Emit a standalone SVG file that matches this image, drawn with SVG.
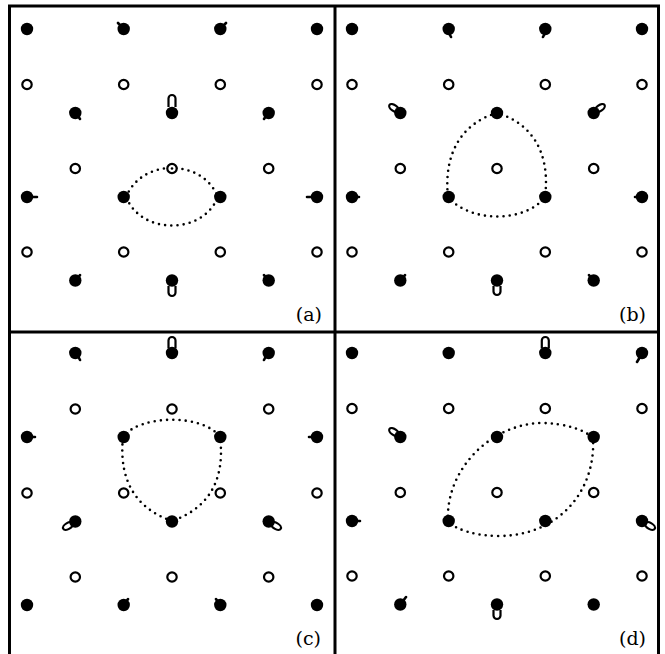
<svg xmlns="http://www.w3.org/2000/svg" xmlns:xlink="http://www.w3.org/1999/xlink" width="665" height="654" viewBox="0 0 665 654">
<style>
.frame{fill:none;stroke:#000;stroke-width:3}
.orb{fill:none;stroke:#000;stroke-width:2.6;stroke-linecap:round;stroke-dasharray:0 6.2}
.tail{fill:none;stroke:#000;stroke-width:2.6;stroke-linecap:round}
.loop{fill:#fff;stroke:#000;stroke-width:2.2}
.lbl{font-family:"DejaVu Serif","Liberation Serif",serif;font-size:19px;fill:#000;text-anchor:end}
</style>
<defs>
<circle id="f" r="6.2" fill="#000"/>
<circle id="o" r="4.7" fill="#fff" stroke="#000" stroke-width="2.2"/>
<g id="latA">
<use xlink:href="#o" x="27" y="84.5"/><use xlink:href="#o" x="123.7" y="84.5"/><use xlink:href="#o" x="220.3" y="84.5"/><use xlink:href="#o" x="317" y="84.5"/>
<use xlink:href="#o" x="75.3" y="168.5"/><use xlink:href="#o" x="172" y="168.5"/><use xlink:href="#o" x="268.7" y="168.5"/>
<use xlink:href="#o" x="27" y="252"/><use xlink:href="#o" x="123.7" y="252"/><use xlink:href="#o" x="220.3" y="252"/><use xlink:href="#o" x="317" y="252"/>
</g>
<g id="latAf">
<use xlink:href="#f" x="27" y="29"/><use xlink:href="#f" x="123.7" y="29"/><use xlink:href="#f" x="220.3" y="29"/><use xlink:href="#f" x="317" y="29"/>
<use xlink:href="#f" x="75.3" y="113"/><use xlink:href="#f" x="172" y="113"/><use xlink:href="#f" x="268.7" y="113"/>
<use xlink:href="#f" x="27" y="197"/><use xlink:href="#f" x="123.7" y="197"/><use xlink:href="#f" x="220.3" y="197"/><use xlink:href="#f" x="317" y="197"/>
<use xlink:href="#f" x="75.3" y="280.5"/><use xlink:href="#f" x="172" y="280.5"/><use xlink:href="#f" x="268.7" y="280.5"/>
</g>
<g id="latC">
<use xlink:href="#o" x="75.3" y="85"/><use xlink:href="#o" x="172" y="85"/><use xlink:href="#o" x="268.7" y="85"/>
<use xlink:href="#o" x="27" y="169"/><use xlink:href="#o" x="123.7" y="169"/><use xlink:href="#o" x="220.3" y="169"/><use xlink:href="#o" x="317" y="169"/>
<use xlink:href="#o" x="75.3" y="253"/><use xlink:href="#o" x="172" y="253"/><use xlink:href="#o" x="268.7" y="253"/>
</g>
<g id="latCf">
<use xlink:href="#f" x="75.3" y="29"/><use xlink:href="#f" x="172" y="29"/><use xlink:href="#f" x="268.7" y="29"/>
<use xlink:href="#f" x="27" y="113"/><use xlink:href="#f" x="123.7" y="113"/><use xlink:href="#f" x="220.3" y="113"/><use xlink:href="#f" x="317" y="113"/>
<use xlink:href="#f" x="75.3" y="197.5"/><use xlink:href="#f" x="172" y="197.5"/><use xlink:href="#f" x="268.7" y="197.5"/>
<use xlink:href="#f" x="27" y="281"/><use xlink:href="#f" x="123.7" y="281"/><use xlink:href="#f" x="220.3" y="281"/><use xlink:href="#f" x="317" y="281"/>
</g>
</defs>
<rect width="665" height="654" fill="#fff"/>

<g id="orbits">
<path class="orb" d="M126,197 C134,178 152,168 172,168 C192,168 210,178 218,197 C210,216 192,225.5 172,225.5 C152,225.5 134,216 126,197 Z"/>
<path class="orb" d="M497,113 C465,122 443,150 448,197 C470,223 525,223 545,197 C551,150 529,122 497,113 Z"/>
<path class="orb" d="M172,521 C140,510 118,485 123,437 C140,414 204,414 220,437 C226,485 204,510 172,521 Z"/>
<path class="orb" d="M448,522 C445,470 490,425 540,423 C565,423 585,430 593,438 C596,490 560,535 500,536 C475,536 458,530 448,522 Z"/>
</g>

<g id="tails">
<path class="tail" d="M121,26 L118,23 M223,26 L226,23 M78,116 L80,119 M266,116 L264,119 M27,197 H37 M317,197 H307 M78,278 L80,275 M266,278 L264,275"/>
<path class="loop" fill="none" d="M168.5,107 V98.5 A3.5,3.5 0 0 1 175.5,98.5 V107"/>
<path class="loop" fill="none" d="M168.5,286 V292.5 A3.5,3.5 0 0 0 175.5,292.5 V286"/>
<path class="tail" d="M449,33 L451,37 M545,33 L543,37 M352,197 H359 M642,197 H635 M403,278 L405,275 M591,278 L589,275"/>
<ellipse class="loop" cx="394" cy="108" rx="5.5" ry="3" transform="rotate(35 394 108)"/>
<ellipse class="loop" cx="600" cy="108" rx="5.5" ry="3" transform="rotate(-35 600 108)"/>
<path class="loop" fill="none" d="M493.5,286 V291.5 A3.5,3.5 0 0 0 500.5,291.5 V286"/>
<path class="tail" d="M78,356 L80,360 M266,356 L264,360 M27,437 H35 M317,437 H309 M126,602 L128,599 M218,602 L216,599"/>
<path class="loop" fill="none" d="M168.5,348 V340.5 A3.5,3.5 0 0 1 175.5,340.5 V348"/>
<ellipse class="loop" cx="68" cy="526" rx="5.5" ry="3" transform="rotate(-30 68 526)"/>
<ellipse class="loop" cx="276" cy="526" rx="5.5" ry="3" transform="rotate(30 276 526)"/>
<path class="tail" d="M640,357 L637,362 M352,521 H360 M403,601 L406,597"/>
<path class="loop" fill="none" d="M541.8,348 V340.5 A3.5,3.5 0 0 1 548.8,340.5 V348"/>
<ellipse class="loop" cx="394" cy="432" rx="5.5" ry="3" transform="rotate(35 394 432)"/>
<ellipse class="loop" cx="650" cy="526" rx="5.5" ry="3" transform="rotate(30 650 526)"/>
<path class="loop" fill="none" d="M493.5,610 V615.5 A3.5,3.5 0 0 0 500.5,615.5 V610"/>
</g>

<g id="panel-a">
<use xlink:href="#latA"/><use xlink:href="#latAf"/>
</g>
<circle cx="172" cy="168.5" r="1.3" fill="#000"/>
<g id="panel-b" transform="translate(325,0)">
<use xlink:href="#latA"/><use xlink:href="#latAf"/>
</g>
<g id="panel-c" transform="translate(0,324)">
<use xlink:href="#latC"/><use xlink:href="#latCf"/>
</g>
<g id="panel-d" transform="translate(325,324)">
<use xlink:href="#latA"/><use xlink:href="#latAf"/>
</g>

<g id="frame">
<path class="frame" d="M9.5,6 V654 M335,6 V654 M658.5,6 V654 M8,6 H660 M8,332 H660"/>
</g>

<g id="labels">
<text class="lbl" x="322" y="321">(a)</text>
<text class="lbl" x="646" y="321">(b)</text>
<text class="lbl" x="321" y="645">(c)</text>
<text class="lbl" x="646" y="645">(d)</text>
</g>
</svg>
